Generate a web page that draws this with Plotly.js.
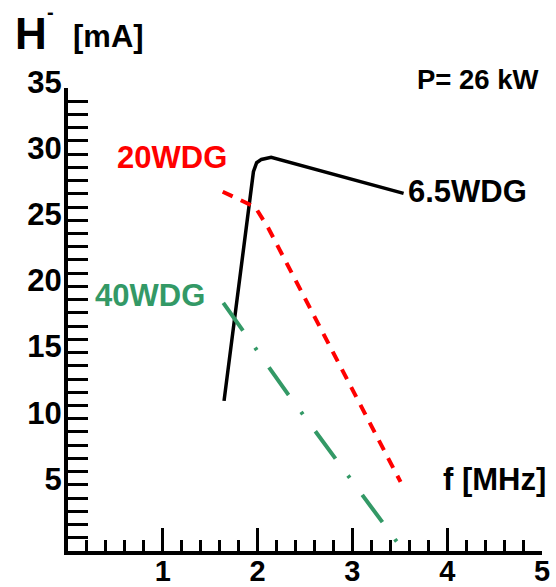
<!DOCTYPE html>
<html>
<head>
<meta charset="utf-8">
<script src="https://cdn.plot.ly/plotly-3.0.1.min.js"></script>
<style>
html,body{margin:0;padding:0;background:#fff;}
#chart{width:556px;height:587px;}
</style>
</head>
<body>
<div id="chart"></div>
<script>
// ---- data ----
var f65 = [1.646, 1.956, 1.99, 2.04, 2.143, 3.54];
var h65 = [11.35, 28.67, 29.35, 29.6, 29.76, 27.03];

var f20 = [1.632, 1.85, 1.974, 2.114, 3.508];
var h20 = [27.16, 26.45, 26.0, 24.4, 5.22];

var f40 = [1.638, 2.326, 3.479];
var h40 = [18.76, 11.8, 0.6];

var xTickVals = [1, 2, 3, 4, 5];
var yTickVals = [5, 10, 15, 20, 25, 30, 35];

var FONT = 'Liberation Sans, Arial, Helvetica, sans-serif';
var GREEN = '#339966';
var RED = '#ff0000';

// plot-area geometry (pixels)
var L = 68.3, R = 14.3, T = 88.3, B = 36.3, W = 556, H = 587;
var pw = W - L - R, ph = H - T - B;
function px(x){ return (x - L) / pw; }
function py(y){ return (H - B - y) / ph; }

var traces = [
  {x: f65, y: h65, mode: 'lines', line: {color: '#000', width: 3.5}, hoverinfo: 'skip'},
  {x: f20, y: h20, mode: 'lines', line: {color: RED, width: 4, dash: '11px,9px'}, hoverinfo: 'skip'},
  {x: f40, y: h40, mode: 'lines', line: {color: GREEN, width: 4, dash: '34px,21px,3px,21px'}, hoverinfo: 'skip'}
];

function ann(text, x, y, size, color, xanchor){
  return {text: text, x: px(x), y: py(y), xref: 'paper', yref: 'paper',
          xanchor: xanchor || 'left', yanchor: 'middle', showarrow: false,
          font: {family: FONT, size: size, color: color || '#000', weight: 'bold'}};
}

var layout = {
  width: W, height: H,
  margin: {l: L, r: R, t: T, b: B, pad: 0},
  paper_bgcolor: '#fff', plot_bgcolor: '#fff',
  showlegend: false,
  font: {family: FONT, color: '#000', weight: 'bold'},
  xaxis: {
    range: [0, 5], showgrid: false, zeroline: false,
    showline: true, linewidth: 4, linecolor: '#000',
    ticks: 'inside', ticklen: 23, tickwidth: 3, tickcolor: '#000',
    tickmode: 'array', tickvals: xTickVals, ticktext: xTickVals.map(String),
    tickfont: {family: FONT, size: 29, color: '#000', weight: 'bold'},
    ticklabelstandoff: -9,
    minor: {ticks: 'inside', ticklen: 11, tickwidth: 3, tickcolor: '#000', tickmode: 'linear', tick0: 0, dtick: 0.2, showgrid: false},
    automargin: false, fixedrange: true
  },
  yaxis: {
    range: [0, 35], showgrid: false, zeroline: false,
    showline: true, linewidth: 4, linecolor: '#000',
    ticks: 'inside', ticklen: 20, tickwidth: 3, tickcolor: '#000',
    tickmode: 'array', tickvals: yTickVals, ticktext: yTickVals.map(String),
    tickfont: {family: FONT, size: 31, color: '#000', weight: 'bold'},
    ticklabelshift: -6,
    ticklabelstandoff: -4,
    minor: {ticks: 'inside', ticklen: 20, tickwidth: 3, tickcolor: '#000', tickmode: 'linear', tick0: 0, dtick: 1, showgrid: false},
    automargin: false, fixedrange: true
  },
  annotations: [
    ann('H', 13, 34, 44),
    ann('-', 45, 12, 20),
    ann('[mA]', 71, 37, 31),
    ann('P= 26 kW', 415, 79.5, 27.5),
    ann('20WDG', 115, 157.5, 31, RED),
    ann('40WDG', 93, 296, 31, GREEN),
    ann('6.5WDG', 406, 191.5, 31),
    ann('f [MHz]', 441, 479, 31)
  ]
};

Plotly.newPlot('chart', traces, layout, {staticPlot: true, displayModeBar: false});
</script>
</body>
</html>
